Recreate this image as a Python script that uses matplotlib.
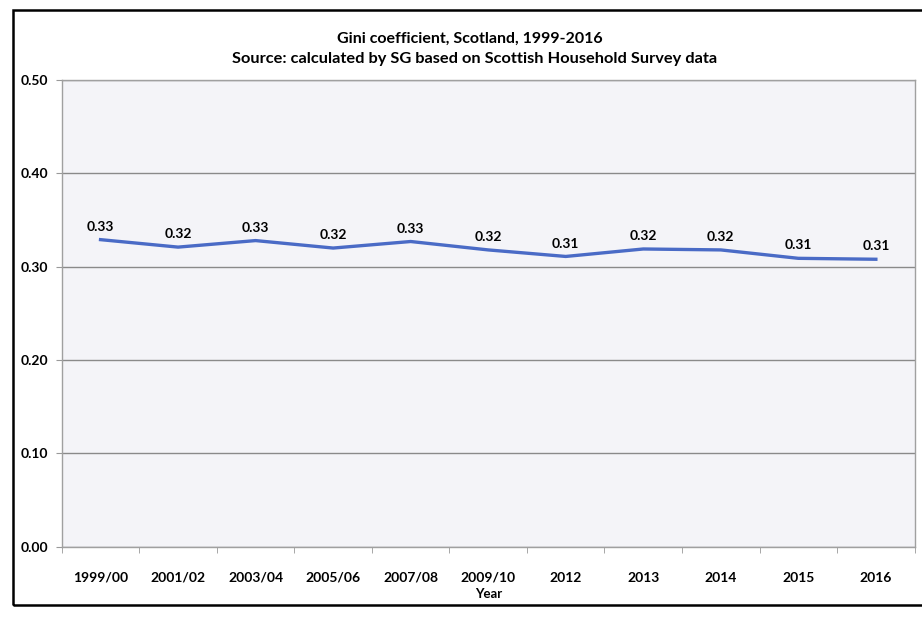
import matplotlib.pyplot as plt
from matplotlib.patches import Rectangle

years = ["1999/00", "2001/02", "2003/04", "2005/06", "2007/08", "2009/10",
         "2012", "2013", "2014", "2015", "2016"]
gini = [0.329, 0.321, 0.328, 0.320, 0.327, 0.318, 0.311, 0.319, 0.318, 0.309, 0.308]
y_ticks = [0.0, 0.1, 0.2, 0.3, 0.4, 0.5]

plt.rcParams['font.family'] = ['Lato', 'DejaVu Sans']

fig = plt.figure(figsize=(9.22, 6.2), dpi=100)
fig.patch.set_facecolor('white')

# outer chart border
fig.add_artist(Rectangle((0.014, 0.024), 1.2, 0.96, transform=fig.transFigure,
                         fill=False, edgecolor='black', linewidth=1.8))

ax = fig.add_axes([0.067, 0.118, 0.925, 0.753])
ax.set_facecolor('#f4f4f8')
x = list(range(len(years)))
ax.plot(x, gini, color='#4a6bc6', linewidth=2.4, zorder=3)
for xi, v in zip(x, gini):
    ax.annotate(f"{v:.2f}", (xi, v), xytext=(0, 5), textcoords='offset points',
                ha='center', va='bottom', fontsize=10, fontweight='bold')

ax.set_xlim(-0.5, len(years) - 0.5)
ax.set_ylim(0, 0.5)
ax.set_yticks(y_ticks)
ax.set_yticklabels([f"{t:.2f}" for t in y_ticks], fontsize=10, fontweight='bold')
ax.set_xticks(x)
ax.set_xticklabels(years, fontsize=10, fontweight='bold')
ax.tick_params(axis='x', length=0, pad=18)
ax.set_xticks([i - 0.5 for i in range(len(years) + 1)], minor=True)
ax.tick_params(axis='x', which='minor', length=4, color='#999999')
ax.tick_params(axis='y', length=4, color='#999999', pad=6)
ax.yaxis.grid(True, color='#8a8a8a', linewidth=1.0)
ax.set_axisbelow(True)
for side in ax.spines.values():
    side.set_color('#a0a0a0')
    side.set_linewidth(1.0)

ax.set_xlabel("Year", fontsize=9.5, fontweight='bold', labelpad=3)

fig.text(0.51, 0.938, "Gini coefficient, Scotland, 1999-2016", ha='center',
         va='center', fontsize=11.5, fontweight='bold')
fig.text(0.515, 0.905, "Source: calculated by SG based on Scottish Household Survey data",
         ha='center', va='center', fontsize=11.8, fontweight='bold')

fig.savefig("out.png", dpi=100)
